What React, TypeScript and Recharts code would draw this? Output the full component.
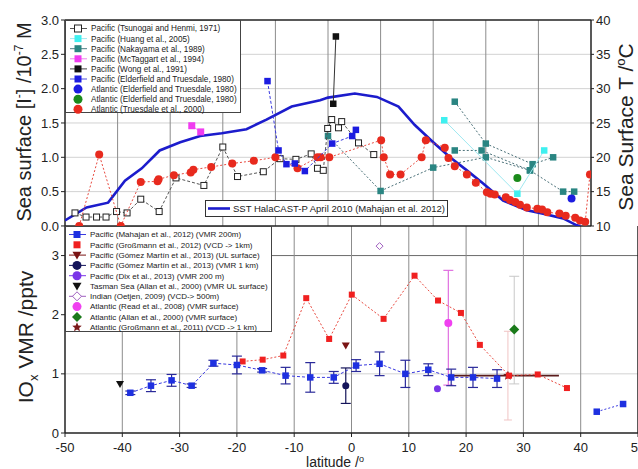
import React from 'react';
import { ComposedChart, Scatter, XAxis, YAxis, ReferenceLine, ErrorBar } from 'recharts';

const FONT = '"Liberation Sans", Arial, Helvetica, sans-serif';

// ---------- axes ----------
const latTicks = [-50, -40, -30, -20, -10, 0, 10, 20, 30, 40, 50];
const latGrid = [-40, -30, -20, -10, 0, 10, 20, 30, 40];
const iodideTicks = [0, 0.5, 1, 1.5, 2, 2.5, 3];
const iodideGrid = [0.5, 1, 1.5, 2, 2.5];
const sstTicks = [10, 15, 20, 25, 30, 35, 40];
const ioxTicks = [0, 1, 2, 3];
const ioxRightTicks = [0, 0.5, 1, 1.5, 2, 2.5, 3, 3.5];

// ---------- top panel: sea surface iodide [lat, 1e-7 M] ----------
const tsunogai = [
  [-48.1, 0.19], [-46.0, 0.13], [-44.0, 0.13], [-42.2, 0.13], [-40.2, 0.21], [-38.2, 0.19],
  [-35.6, 0.39], [-32.1, 0.21], [-28.9, 0.70], [-23.6, 0.59], [-20.0, 1.15], [-17.2, 0.72],
  [-12.3, 0.79], [-9.1, 0.98], [-6.1, 0.97], [-3.2, 1.05], [-2.0, 0.84], [-0.9, 0.81],
  [-0.06, 1.42], [0.7, 1.55], [2.0, 1.43], [2.6, 1.52], [5.8, 1.21], [8.7, 1.04],
];
const huang = [[22.1, 1.54], [36.0, 0.47], [41.1, 1.10]];
const nakayamaA = [[0.0, 1.31], [10.0, 0.51], [20.0, 0.85], [30.0, 1.0], [38.4, 0.81]];
const nakayamaB = [[24.1, 1.81], [30.0, 1.2], [38.9, 0.9], [42.8, 1.0]];
const nakayamaC = [[24.1, 1.1], [29.2, 1.1], [38.4, 0.81], [44.7, 0.5], [46.8, 0.5]];
const mctaggart = [[-25.9, 1.46], [-24.2, 1.37]];
const wong = [[1.0, 1.78], [1.5, 2.76]];
const elderfieldPac = [[-11.5, 2.11], [-9.4, 1.10], [-7.9, 0.90], [-6.3, 0.91], [-4.4, 0.80], [0.8, 1.20], [4.6, 1.31], [5.3, 1.40]];
const elderfieldAtlBlue = [[46.3, 0.40]];
const elderfieldAtlGreen = [[36.0, 0.70]];
const truesdale = [
  [-47.3, 0.0], [-43.5, 1.04], [-39.4, 0.0], [-35.6, 0.64], [-32.4, 0.65], [-32.2, 0.68],
  [-29.3, 0.74], [-26.1, 0.78], [-25.6, 0.82], [-22.2, 0.86], [-18.2, 0.91], [-14.1, 0.95],
  [-10.0, 1.0], [-5.8, 0.84], [-2.0, 1.0], [-1.4, 1.0], [0.25, 1.0], [10.1, 1.25], [10.6, 1.0],
  [11.8, 0.75], [13.8, 0.75], [17.8, 1.0], [18.6, 1.25], [22.2, 1.14], [22.9, 0.99], [24.1, 0.87],
  [26.4, 0.75], [28.1, 0.63], [30.2, 0.49], [30.9, 0.47], [31.7, 0.46], [33.8, 0.42], [34.6, 0.38],
  [35.6, 0.35], [36.5, 0.31], [37.8, 0.27], [39.8, 0.25], [40.7, 0.24], [41.7, 0.2], [44.0, 0.18],
  [45.2, 0.15], [47.0, 0.12], [47.9, 0.08], [48.9, 0.06], [49.8, 0.75],
];
// SST [lat, deg C]
const sst = [
  [-50, 10.8], [-45.9, 12.7], [-41.8, 13.4], [-38.6, 16.6], [-35.4, 18.4], [-32, 21.0], [-28.1, 22.2],
  [-24.3, 23.1], [-20.2, 23.5], [-15.5, 24.1], [-11.7, 25.5], [-6.9, 27.4], [-1.5, 28.3], [0, 28.7],
  [5.1, 29.3], [9.3, 28.8], [13.4, 27.4], [16.5, 24.7], [20, 22.2], [23.2, 20.0], [26.4, 18.1],
  [29.5, 16.2], [33.3, 13.7], [37.8, 12.3], [40.9, 11.8], [44.7, 11.1], [47.3, 10.1], [48, 10.0],
];

// ---------- bottom panel: IOx VMR [lat, pptv, err] ----------
const mahajan = [
  [-38.6, 0.68, 0.03], [-35.0, 0.80, 0.1], [-31.4, 0.89, 0.1], [-27.9, 0.80, 0.03], [-24.1, 1.18, 0.05],
  [-20.0, 1.15, 0.15], [-15.6, 1.06, 0.03], [-11.5, 0.97, 0.14], [-7.2, 0.94, 0.25], [-3.1, 0.94, 0.1],
  [0.8, 1.14, 0.1], [4.9, 1.17, 0.2], [9.4, 1.0, 0.23], [13.4, 1.07, 0.1], [17.4, 0.94, 0.14],
  [21.2, 0.94, 0.17], [25.4, 0.92, 0.15],
];
const mahajanNorth = [[42.8, 0.36], [47.4, 0.49]];
const grossmann2012 = [
  [-19.0, 1.21], [-15.5, 1.24], [-11.9, 1.31], [-7.9, 2.28], [-3.9, 1.59], [0.05, 2.34], [5.6, 1.93],
  [11.0, 2.66], [15.1, 2.24], [19.1, 2.03], [22.4, 1.49], [27.5, 0.97], [32.5, 0.99], [37.6, 0.76],
];
const gomezUL = [[-1.0, 1.48]];
const gomez1km = [[-1.0, 0.80, 0.3]];
const dix = [[15.0, 0.75]];
const allanTasman = [[-40.4, 0.83]];
const oetjen = [[4.9, 3.16]];
const read = [[16.9, 1.86, 1.05, 0.89]];
const allanAtl = [[28.4, 1.75, 0.92, 0.9]];
const grossmann2011 = [[27.3, 0.97, 0.75, 0.75, 10.4, 8.9]];

// ---------- legend texts ----------
const topLegend = [
  { label: 'Pacific (Tsunogai and Henmi, 1971)', kind: 'sq', fill: '#ffffff', stroke: '#222', line: '#555', size: 7 },
  { label: 'Pacific (Huang et al., 2005)', kind: 'sq', fill: '#3ff0f0', stroke: 'none', line: '#9fe8f0', size: 7 },
  { label: 'Pacific (Nakayama et al., 1989)', kind: 'sq', fill: '#2a8582', stroke: 'none', line: '#4a7a80', size: 7 },
  { label: 'Pacific (McTaggart et al., 1994)', kind: 'sq', fill: '#f03cf0', stroke: 'none', line: '#f080f0', size: 7 },
  { label: 'Pacific (Wong et al., 1991)', kind: 'sq', fill: '#111', stroke: 'none', line: '#444', size: 7 },
  { label: 'Pacific (Elderfield and Truesdale, 1980)', kind: 'sq', fill: '#1c1ce0', stroke: 'none', line: '#4a4ae0', size: 7 },
  { label: 'Atlantic (Elderfield and Truesdale, 1980)', kind: 'ci', fill: '#1c1ce0', stroke: 'none', line: 'none', size: 9 },
  { label: 'Atlantic (Elderfield and Truesdale, 1980)', kind: 'ci', fill: '#1a8a1a', stroke: 'none', line: 'none', size: 9 },
  { label: 'Atlantic (Truesdale et al., 2000)', kind: 'ci', fill: '#e82a1e', stroke: 'none', line: 'none', size: 9 },
];
const bottomLegend = [
  { label: 'Pacific (Mahajan et al., 2012) (VMR 200m)', kind: 'sq', fill: '#1e30e0', stroke: 'none', line: '#3a3ae0', size: 7 },
  { label: 'Pacific (Großmann et al., 2012) (VCD -> 1km)', kind: 'sq', fill: '#f02020', stroke: 'none', line: 'none', size: 7 },
  { label: 'Pacific (Gómez Martín et al., 2013) (UL surface)', kind: 'tri', fill: '#7a1414', stroke: 'none', line: '#7a1414', size: 9 },
  { label: 'Pacific (Gómez Martín et al., 2013) (VMR 1 km)', kind: 'ci', fill: '#14145a', stroke: 'none', line: '#14145a', size: 9 },
  { label: 'Pacific (Dix et al., 2013) (VMR 200 m)', kind: 'ci', fill: '#7a35e8', stroke: 'none', line: '#7a35e8', size: 9 },
  { label: 'Tasman Sea (Allan et al., 2000) (VMR UL surface)', kind: 'tri', fill: '#111', stroke: 'none', line: 'none', size: 9 },
  { label: 'Indian (Oetjen, 2009) (VCD-> 500m)', kind: 'dia', fill: '#ffffff', stroke: '#a060c0', line: '#a060c0', size: 9 },
  { label: 'Atlantic (Read et al., 2008) (VMR surface)', kind: 'ci', fill: '#f040f0', stroke: 'none', line: 'none', size: 9 },
  { label: 'Atlantic (Allan et al., 2000) (VMR surface)', kind: 'dia', fill: '#1a7a1a', stroke: 'none', line: 'none', size: 10 },
  { label: 'Atlantic (Großmann et al., 2011) (VCD -> 1 km)', kind: 'star', fill: '#7a1a1a', stroke: 'none', line: 'none', size: 10 },
];
const sstLegendLabel = 'SST HalaCAST-P April 2010 (Mahajan et al. 2012)';

// ---------- helpers ----------
const pts = (a: number[][]) => a.map((r) => ({ x: r[0], y: r[1] }));
const ptsErr = (a: number[][]) => a.map((r) => ({ x: r[0], y: r[1], e: r[2] }));
const ptsErr2 = (a: number[][]) => a.map((r) => ({ x: r[0], y: r[1], e: [r[2], r[3]], ex: r.length > 4 ? [r[4], r[5]] : 0 }));

function starPts(cx: number, cy: number, r: number) {
  const out: string[] = [];
  for (let i = 0; i < 10; i++) {
    const a = -Math.PI / 2 + (i * Math.PI) / 5;
    const rr = i % 2 === 0 ? r : r * 0.45;
    out.push(`${cx + rr * Math.cos(a)},${cy + rr * Math.sin(a)}`);
  }
  return out.join(' ');
}

function drawSym(kind: string, cx: number, cy: number, size: number, fill: string, stroke: string, sw = 1) {
  const h = size / 2;
  const common = { fill, stroke, strokeWidth: sw };
  if (kind === 'sq') return <rect x={cx - h} y={cy - h} width={size} height={size} {...common} />;
  if (kind === 'ci') return <circle cx={cx} cy={cy} r={h} {...common} />;
  if (kind === 'tri') return <polygon points={`${cx - h},${cy - h * 0.75} ${cx + h},${cy - h * 0.75} ${cx},${cy + h}`} {...common} />;
  if (kind === 'dia') return <polygon points={`${cx},${cy - h} ${cx + h},${cy} ${cx},${cy + h} ${cx - h},${cy}`} {...common} />;
  if (kind === 'star') return <polygon points={starPts(cx, cy, h)} {...common} />;
  return <g />;
}

const sym = (kind: string, size: number, fill: string, stroke = 'none', sw = 1) => (p: any) => {
  if (p == null || p.cx == null || p.cy == null || isNaN(p.cx) || isNaN(p.cy)) return <g />;
  return drawSym(kind, p.cx, p.cy, size, fill, stroke, sw);
};
const noSym = () => <g />;

const tickStyle = { fontSize: 13, fill: '#222', fontFamily: FONT };
const axisLine = { stroke: '#222', strokeWidth: 1.5 };
const tickLine = { stroke: '#222', strokeWidth: 1 };
const VGRID = '#8c8c8c';
const HGRID = '#d2d2d2';

function TopChart() {
  return (
    <ComposedChart width={638} height={469} margin={{ top: 20, right: 0, bottom: 0, left: 0 }}>
      <XAxis type="number" dataKey="x" domain={[-50, 50]} ticks={latTicks} height={243} tick={false}
        tickLine={false} axisLine={false} allowDataOverflow />
      <YAxis yAxisId="l" type="number" dataKey="y" domain={[-0.0005, 3]} ticks={iodideTicks} interval={0} width={65}
        allowDataOverflow tickFormatter={(v: number) => Number(v).toFixed(1)} tick={tickStyle} tickLine={tickLine}
        axisLine={axisLine} tickSize={4} />
      <YAxis yAxisId="r" orientation="right" type="number" dataKey="y" domain={[10, 40]} ticks={sstTicks}
        interval={0} width={47} allowDataOverflow tick={tickStyle} tickLine={tickLine} axisLine={axisLine} tickSize={3} />
      {iodideGrid.map((v) => (
        <ReferenceLine key={'h' + v} yAxisId="l" y={v} stroke={HGRID} strokeWidth={1} />
      ))}
      {latGrid.map((v) => (
        <ReferenceLine key={'v' + v} yAxisId="l" x={v} stroke={VGRID} strokeWidth={1} />
      ))}
      <ReferenceLine yAxisId="l" y={3} stroke="#222" strokeWidth={1.5} />
      <ReferenceLine yAxisId="l" y={0} stroke="#222" strokeWidth={1.5} />

      <Scatter yAxisId="r" data={pts(sst)} shape={noSym} line={{ stroke: '#1c1ccc', strokeWidth: 2.6 }} isAnimationActive={false} />
      <Scatter yAxisId="l" data={pts(nakayamaA)} shape={sym('sq', 6.5, '#2a8582')} line={{ stroke: '#4a7078', strokeWidth: 1, strokeDasharray: '2 2' }} isAnimationActive={false} />
      <Scatter yAxisId="l" data={pts(nakayamaB)} shape={sym('sq', 6.5, '#2a8582')} line={{ stroke: '#4a7078', strokeWidth: 1, strokeDasharray: '2 2' }} isAnimationActive={false} />
      <Scatter yAxisId="l" data={pts(nakayamaC)} shape={sym('sq', 6.5, '#2a8582')} line={{ stroke: '#4a7078', strokeWidth: 1, strokeDasharray: '2 2' }} isAnimationActive={false} />
      <Scatter yAxisId="l" data={pts(huang)} shape={sym('sq', 6.5, '#3ff0f0')} line={{ stroke: '#9fe8f0', strokeWidth: 1 }} isAnimationActive={false} />
      <Scatter yAxisId="l" data={pts(tsunogai)} shape={sym('sq', 6, '#ffffff', '#222', 1)} line={{ stroke: '#555', strokeWidth: 1, strokeDasharray: '3 2' }} isAnimationActive={false} />
      <Scatter yAxisId="l" data={pts(truesdale)} shape={sym('ci', 8, '#e82a1e')} line={{ stroke: '#e84a40', strokeWidth: 1, strokeDasharray: '2 2' }} isAnimationActive={false} />
      <Scatter yAxisId="l" data={pts(elderfieldPac)} shape={sym('sq', 6.5, '#1c1ce0')} line={{ stroke: '#3a3ae0', strokeWidth: 1, strokeDasharray: '3 2' }} isAnimationActive={false} />
      <Scatter yAxisId="l" data={pts(mctaggart)} shape={sym('sq', 7, '#f03cf0')} line={{ stroke: '#f080f0', strokeWidth: 1 }} isAnimationActive={false} />
      <Scatter yAxisId="l" data={pts(wong)} shape={sym('sq', 6.5, '#111')} line={{ stroke: '#333', strokeWidth: 1 }} isAnimationActive={false} />
      <Scatter yAxisId="l" data={pts(elderfieldAtlBlue)} shape={sym('ci', 8, '#1c1ce0')} isAnimationActive={false} />
      <Scatter yAxisId="l" data={pts(elderfieldAtlGreen)} shape={sym('ci', 8, '#1a8a1a')} isAnimationActive={false} />
    </ComposedChart>
  );
}

function BottomChart() {
  return (
    <ComposedChart width={638} height={243} margin={{ top: 0, right: 0, bottom: 0, left: 0 }}>
      <XAxis type="number" dataKey="x" domain={[-50, 50]} ticks={latTicks} interval={0} height={36} allowDataOverflow
        tick={tickStyle} tickLine={tickLine} axisLine={axisLine} tickSize={4} tickMargin={6} />
      <YAxis yAxisId="l" type="number" dataKey="y" domain={[0, 3.5]} ticks={ioxTicks} interval={0} width={65}
        allowDataOverflow tick={tickStyle} tickLine={tickLine} axisLine={axisLine} tickSize={4} />
      <YAxis yAxisId="r" orientation="right" type="number" dataKey="y" domain={[0, 3.5]} ticks={ioxRightTicks}
        interval={0} width={47} allowDataOverflow tick={false} mirror tickLine={tickLine} axisLine={axisLine} tickSize={4} />
      <ReferenceLine yAxisId="l" y={1} stroke={HGRID} strokeWidth={1} />
      <ReferenceLine yAxisId="l" y={3} stroke="#6a6a6a" strokeWidth={1} />
      {latGrid.map((v) => (
        <ReferenceLine key={'v' + v} yAxisId="l" x={v} stroke={VGRID} strokeWidth={1} />
      ))}

      <Scatter yAxisId="l" data={ptsErr2(grossmann2011)} shape={sym('star', 10, '#7a1a1a')} isAnimationActive={false}>
        <ErrorBar dataKey="e" direction="y" width={4} stroke="#f0c4c4" strokeWidth={1} />
        <ErrorBar dataKey="ex" direction="x" width={0} stroke="#5a1c1c" strokeWidth={1.6} />
      </Scatter>
      <Scatter yAxisId="l" data={ptsErr2(allanAtl)} shape={sym('dia', 10, '#1a7a1a')} isAnimationActive={false}>
        <ErrorBar dataKey="e" direction="y" width={5} stroke="#c8c8c8" strokeWidth={1} />
      </Scatter>
      <Scatter yAxisId="l" data={ptsErr2(read)} shape={sym('ci', 8, '#f040f0')} isAnimationActive={false}>
        <ErrorBar dataKey="e" direction="y" width={5} stroke="#e070e0" strokeWidth={1.2} />
      </Scatter>
      <Scatter yAxisId="l" data={pts(grossmann2012)} shape={sym('sq', 6, '#f02020')} line={{ stroke: '#e84a40', strokeWidth: 1, strokeDasharray: '2 2' }} isAnimationActive={false} />
      <Scatter yAxisId="l" data={ptsErr(mahajan)} shape={sym('sq', 6.5, '#1e30e0')} line={{ stroke: '#3a3ae0', strokeWidth: 1, strokeDasharray: '3 2' }} isAnimationActive={false}>
        <ErrorBar dataKey="e" direction="y" width={5} stroke="#2a2a9a" strokeWidth={1.2} />
      </Scatter>
      <Scatter yAxisId="l" data={pts(mahajanNorth)} shape={sym('sq', 6.5, '#1e30e0')} line={{ stroke: '#3a3ae0', strokeWidth: 1, strokeDasharray: '2 2' }} isAnimationActive={false} />
      <Scatter yAxisId="l" data={ptsErr(gomez1km)} shape={sym('ci', 7, '#14145a')} isAnimationActive={false}>
        <ErrorBar dataKey="e" direction="y" width={5} stroke="#14145a" strokeWidth={1.2} />
      </Scatter>
      <Scatter yAxisId="l" data={pts(gomezUL)} shape={sym('tri', 8, '#7a1414')} isAnimationActive={false} />
      <Scatter yAxisId="l" data={pts(dix)} shape={sym('ci', 7, '#7a35e8')} isAnimationActive={false} />
      <Scatter yAxisId="l" data={pts(allanTasman)} shape={sym('tri', 8, '#111')} isAnimationActive={false} />
      <Scatter yAxisId="l" data={pts(oetjen)} shape={sym('dia', 7, '#ffffff', '#a060c0', 1)} isAnimationActive={false} />
    </ComposedChart>
  );
}

function LegendRows({ items, x0, y0, dy, fs }: { items: any[]; x0: number; y0: number; dy: number; fs: number }) {
  return (
    <g>
      {items.map((it, i) => {
        const cy = y0 + i * dy;
        return (
          <g key={i}>
            {it.line !== 'none' && <line x1={x0 - 8} x2={x0 + 9} y1={cy} y2={cy} stroke={it.line} strokeWidth={1} />}
            {drawSym(it.kind, x0, cy, it.size, it.fill, it.stroke, 1)}
            <text x={x0 + 13} y={cy + fs * 0.36} fontSize={fs} fill="#222" fontFamily={FONT}>{it.label}</text>
          </g>
        );
      })}
    </g>
  );
}

function Overlay() {
  return (
    <svg width={638} height={469} style={{ position: 'absolute', left: 0, top: 0, pointerEvents: 'none', zIndex: 3 }}>
      {/* top legend */}
      <rect x={65.5} y={20.5} width={175} height={92} fill="#fff" stroke="#444" strokeWidth={1} />
      <LegendRows items={topLegend} x0={78} y0={28.5} dy={10.1} fs={8.2} />
      {/* SST legend */}
      <rect x={205.5} y={200.5} width={242} height={16} fill="#fff" stroke="#333" strokeWidth={1} />
      <line x1={208} x2={230} y1={208.5} y2={208.5} stroke="#1c1ccc" strokeWidth={2.6} />
      <text x={233} y={212} fontSize={9.5} fill="#222" fontFamily={FONT}>{sstLegendLabel}</text>
      {/* bottom legend */}
      <rect x={65.5} y={226.5} width={206} height={105} fill="#fff" stroke="#444" strokeWidth={1} />
      <LegendRows items={bottomLegend} x0={77} y0={234.5} dy={10.3} fs={8} />

      {/* axis titles */}
      <text transform="translate(31,122) rotate(-90)" textAnchor="middle" fontSize={20} fill="#222" fontFamily={FONT}>
        Sea surface [I<tspan dy={-8} fontSize={12}>-</tspan><tspan dy={8}>] /10</tspan>
        <tspan dy={-8} fontSize={12}>-7</tspan><tspan dy={8}> M</tspan>
      </text>
      <text transform="translate(633,127) rotate(-90)" textAnchor="middle" fontSize={21} fill="#222" fontFamily={FONT}>
        Sea Surface T /<tspan dy={-8} fontSize={13}>o</tspan><tspan dy={8}>C</tspan>
      </text>
      <text transform="translate(33,337) rotate(-90)" textAnchor="middle" fontSize={21} fill="#222" fontFamily={FONT}>
        IO<tspan dy={5} fontSize={13}>x</tspan><tspan dy={-5}> VMR /pptv</tspan>
      </text>
      <text x={335} y={467} textAnchor="middle" fontSize={14} fill="#222" fontFamily={FONT}>
        latitude /<tspan dy={-5} fontSize={9}>o</tspan>
      </text>
    </svg>
  );
}

export default function App() {
  return (
    <div style={{ position: 'absolute', left: 0, top: 0, width: 638, height: 469, background: '#fff', fontFamily: FONT }}>
      <div style={{ position: 'absolute', left: 0, top: 226, zIndex: 1 }}>
        <BottomChart />
      </div>
      <div style={{ position: 'absolute', left: 0, top: 0, zIndex: 2, pointerEvents: 'none' }}>
        <TopChart />
      </div>
      <Overlay />
    </div>
  );
}
